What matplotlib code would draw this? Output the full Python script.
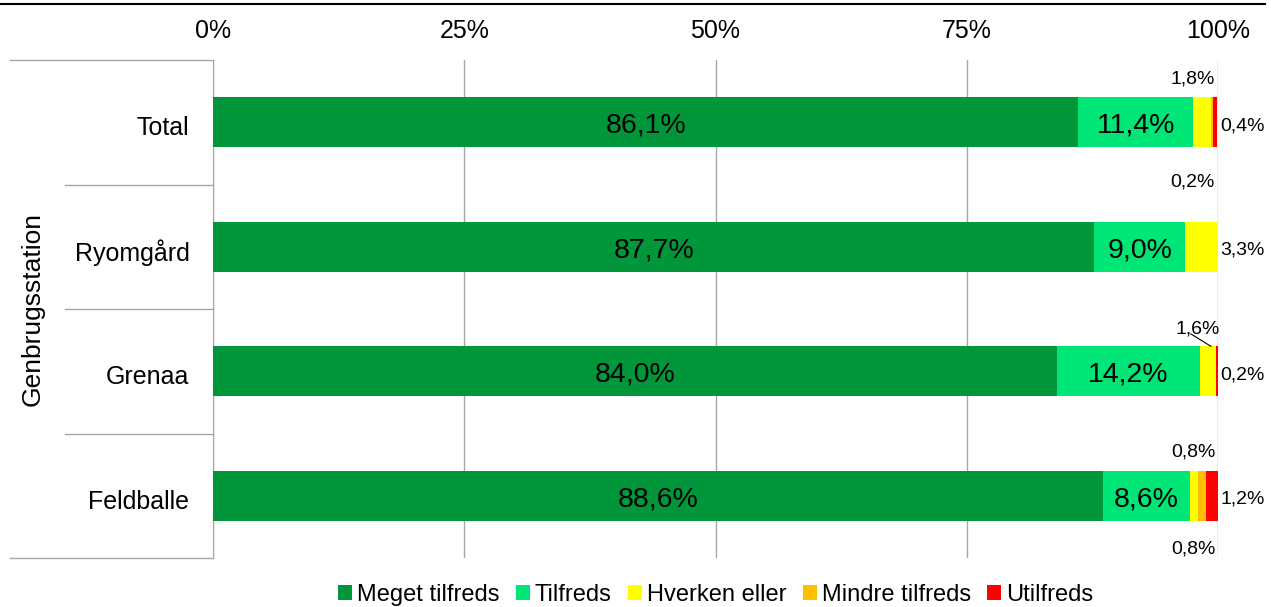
import numpy as np
import matplotlib
matplotlib.use('Agg')
import matplotlib.pyplot as plt
from matplotlib.lines import Line2D

plt.rcParams['font.family'] = ['Liberation Sans', 'DejaVu Sans']

# Data (percent)
stations = ['Total', 'Ryomgård', 'Grenaa', 'Feldballe']
categories = ['Meget tilfreds', 'Tilfreds', 'Hverken eller', 'Mindre tilfreds', 'Utilfreds']
meget = [86.1, 87.7, 84.0, 88.6]
tilfreds = [11.4, 9.0, 14.2, 8.6]
hverken = [1.8, 3.3, 1.6, 0.8]
mindre = [0.2, 0.0, 0.0, 0.8]
utilfreds = [0.4, 0.0, 0.2, 1.2]
series = [meget, tilfreds, hverken, mindre, utilfreds]
colors = ['#009639', '#00E676', '#FFFF00', '#FFC000', '#FF0000']

fig = plt.figure(figsize=(12.71, 6.07), dpi=100)
ax = fig.add_axes([213 / 1271, 1 - 558 / 607, 1005 / 1271, 498 / 607])

y = np.arange(len(stations))
left = np.zeros(len(stations))
bars = []
for vals, col, name in zip(series, colors, categories):
    vals = np.array(vals)
    ax.barh(y, vals, left=left, height=0.4, color=col, label=name, zorder=3)
    bars.append((vals, left.copy()))
    left += vals

def fmt(v):
    return f'{v:.1f}%'.replace('.', ',')

dy = 0.03  # text sits a bit low in the reference

# big labels inside bars
for i in range(len(stations)):
    for k in (0, 1):
        vals, lft = bars[k]
        ax.text(lft[i] + vals[i] / 2, y[i] + dy, fmt(vals[i]), ha='center', va='center',
                fontsize=20.5, zorder=4)

small = 14
# Total
ax.text(99.7, y[0] - 0.38 + dy, fmt(hverken[0]), ha='right', va='center', fontsize=small)
ax.text(99.7, y[0] + 0.45 + dy, fmt(mindre[0]), ha='right', va='center', fontsize=small)
ax.text(100.2, y[0] + dy, fmt(utilfreds[0]), ha='left', va='center', fontsize=small)
# Ryomgård
ax.text(100.2, y[1] + dy, fmt(hverken[1]), ha='left', va='center', fontsize=small)
# Grenaa, with leader line
ax.text(98.0, y[2] - 0.37 + dy, fmt(hverken[2]), ha='center', va='center', fontsize=small)
ax.plot([97.3, 99.3], [y[2] - 0.3, y[2] - 0.2], color='black', lw=0.8, zorder=4)
ax.text(100.2, y[2] + dy, fmt(utilfreds[2]), ha='left', va='center', fontsize=small)
# Feldballe
ax.text(99.8, y[3] - 0.38 + dy, fmt(hverken[3]), ha='right', va='center', fontsize=small)
ax.text(99.8, y[3] + 0.4 + dy, fmt(mindre[3]), ha='right', va='center', fontsize=small)
ax.text(100.2, y[3] + dy, fmt(utilfreds[3]), ha='left', va='center', fontsize=small)

ax.set_xlim(0, 100)
ax.set_ylim(len(stations) - 0.5, -0.5)
ax.set_xticks([0, 25, 50, 75, 100])
ax.set_xticklabels(['0%', '25%', '50%', '75%', '100%'])
ax.xaxis.tick_top()
ax.tick_params(axis='x', length=0, pad=12, labelsize=18)
ax.set_yticks(y + dy)
ax.set_yticklabels(stations)
ax.tick_params(axis='y', length=0, pad=17, labelsize=18)
ax.grid(axis='x', color='#a6a6a6', lw=1, zorder=0)

for s in ('top', 'right', 'bottom'):
    ax.spines[s].set_visible(False)
ax.spines['left'].set_color('#a6a6a6')

ax.set_ylabel('Genbrugsstation', fontsize=19)
ax.yaxis.set_label_coords(-0.168, 0.5)

# category separator lines
tr = ax.get_yaxis_transform()
for yy in [0.5, 1.5, 2.5]:
    ax.plot([-148 / 1005, 0], [yy, yy], transform=tr, color='#a6a6a6', lw=1, clip_on=False)
for yy in [-0.5, 3.5]:
    ax.plot([-203 / 1005, 0], [yy, yy], transform=tr, color='#a6a6a6', lw=1, clip_on=False)

ax.legend(loc='center', bbox_to_anchor=(0.5, -0.074), ncol=5, frameon=False, fontsize=17,
          handlelength=0.6, handleheight=0.6, handletextpad=0.2, columnspacing=0.7)

fig.add_artist(Line2D([0, 1265 / 1271], [1 - 4 / 607, 1 - 4 / 607], color='black', lw=1.5))

fig.savefig('out.png', dpi=100)
